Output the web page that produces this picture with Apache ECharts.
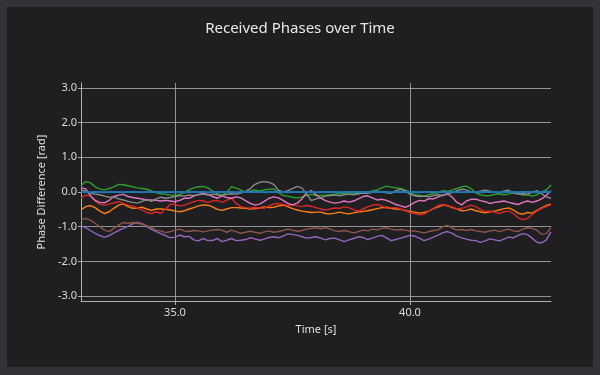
<!DOCTYPE html>
<html><head><meta charset="utf-8">
<script src="https://cdn.jsdelivr.net/npm/echarts@6/dist/echarts.min.js"></script>
<style>
html,body{margin:0;padding:0;background:#333236;}
#frame{position:relative;width:600px;height:375px;background:#333236;overflow:hidden;}
#chart{position:absolute;left:7px;top:7px;width:586px;height:360px;}
</style></head><body>
<div id="frame"><div id="chart"></div></div>
<script>
// sampling of the time axis
const t0 = 33.0;
const dt = 0.1;

const xTicks = [35, 40];
const yTicks = [-3, -2, -1, 0, 1, 2, 3];

const blue = [
 0.00,0.00,-0.01,0.00,0.00,-0.01,0.00,0.00,0.00,-0.01,
 0.00,0.00,0.00,-0.01,0.00,0.00,0.00,0.00,-0.01,0.00,
 0.00,0.00,-0.01,0.00,0.00,0.00,0.00,-0.01,0.00,0.00,
 0.00,0.00,0.00,-0.01,0.00,0.00,0.00,0.00,0.00,-0.01,
 0.00,0.00,0.00,0.00,-0.01,0.00,0.00,0.00,0.00,0.00,
 -0.01,0.00,0.00,0.00,0.00,-0.01,0.00,0.00,0.00,0.00,
 0.00,-0.01,0.00,0.00,0.00,0.00,-0.01,0.00,0.00,0.00,
 0.00,0.00,-0.01,0.00,0.00,0.00,-0.01,0.00,0.00,0.00,
 0.00,-0.01,0.00,0.00,0.00,-0.01,0.00,0.00,0.00,-0.01,
 0.00,0.00,0.00,-0.01,0.00,0.00,0.00,-0.01,0.00,0.00,
 0.00];
const orange = [
 -0.52,-0.42,-0.39,-0.45,-0.55,-0.62,-0.57,-0.47,-0.38,-0.34,
 -0.42,-0.47,-0.46,-0.44,-0.49,-0.53,-0.49,-0.49,-0.50,-0.52,
 -0.55,-0.57,-0.54,-0.49,-0.45,-0.40,-0.37,-0.38,-0.43,-0.50,
 -0.53,-0.49,-0.45,-0.45,-0.46,-0.47,-0.49,-0.48,-0.46,-0.43,
 -0.45,-0.44,-0.40,-0.38,-0.42,-0.48,-0.52,-0.55,-0.57,-0.59,
 -0.58,-0.58,-0.62,-0.63,-0.61,-0.58,-0.61,-0.63,-0.60,-0.57,
 -0.56,-0.54,-0.51,-0.48,-0.45,-0.44,-0.47,-0.49,-0.50,-0.53,
 -0.56,-0.58,-0.61,-0.59,-0.55,-0.48,-0.43,-0.38,-0.39,-0.45,
 -0.49,-0.54,-0.53,-0.49,-0.54,-0.57,-0.60,-0.57,-0.55,-0.52,
 -0.48,-0.46,-0.52,-0.61,-0.64,-0.59,-0.61,-0.53,-0.46,-0.39,
 -0.35];
const green = [
 0.18,0.30,0.27,0.15,0.09,0.06,0.10,0.15,0.22,0.21,
 0.18,0.15,0.12,0.10,0.08,0.03,-0.02,-0.05,-0.07,-0.09,
 -0.10,-0.07,-0.01,0.06,0.12,0.15,0.16,0.12,0.03,-0.05,
 -0.09,-0.01,0.15,0.11,0.06,-0.01,0.03,0.06,0.03,0.06,
 0.08,0.09,-0.02,-0.10,-0.12,-0.15,-0.17,-0.15,-0.10,-0.07,
 -0.10,-0.10,-0.09,-0.08,-0.06,-0.05,-0.04,-0.02,-0.03,-0.05,
 -0.02,0.00,0.03,0.06,0.12,0.17,0.14,0.12,0.10,0.05,
 0.00,-0.08,-0.10,-0.12,-0.08,-0.04,-0.02,0.04,0.02,0.06,
 0.10,0.15,0.17,0.10,-0.03,-0.08,-0.11,-0.10,-0.07,-0.05,
 -0.08,-0.06,-0.02,-0.04,-0.09,-0.08,-0.12,-0.08,0.00,0.06,
 0.20];
const red = [
 -0.18,-0.09,-0.11,-0.26,-0.35,-0.38,-0.35,-0.31,-0.28,-0.33,
 -0.38,-0.41,-0.45,-0.52,-0.59,-0.62,-0.57,-0.62,-0.49,-0.35,
 -0.36,-0.40,-0.38,-0.33,-0.28,-0.24,-0.26,-0.30,-0.26,-0.24,
 -0.30,-0.24,-0.18,-0.33,-0.42,-0.45,-0.47,-0.44,-0.46,-0.47,
 -0.40,-0.34,-0.33,-0.36,-0.39,-0.37,-0.40,-0.42,-0.39,-0.41,
 -0.45,-0.49,-0.52,-0.49,-0.46,-0.47,-0.43,-0.45,-0.51,-0.55,
 -0.49,-0.43,-0.38,-0.36,-0.40,-0.47,-0.45,-0.45,-0.49,-0.54,
 -0.59,-0.62,-0.66,-0.64,-0.55,-0.47,-0.39,-0.36,-0.40,-0.43,
 -0.49,-0.47,-0.43,-0.38,-0.42,-0.50,-0.56,-0.55,-0.58,-0.62,
 -0.57,-0.55,-0.62,-0.74,-0.80,-0.76,-0.65,-0.55,-0.47,-0.42,
 -0.37];
const purple = [
 -0.97,-1.03,-1.11,-1.19,-1.26,-1.30,-1.26,-1.18,-1.11,-1.05,
 -0.99,-0.92,-0.88,-0.91,-1.00,-1.08,-1.14,-1.20,-1.26,-1.32,
 -1.30,-1.24,-1.29,-1.28,-1.38,-1.41,-1.34,-1.40,-1.40,-1.34,
 -1.43,-1.39,-1.34,-1.40,-1.39,-1.37,-1.32,-1.35,-1.39,-1.36,
 -1.31,-1.29,-1.32,-1.27,-1.21,-1.22,-1.25,-1.29,-1.33,-1.31,
 -1.29,-1.33,-1.38,-1.34,-1.33,-1.38,-1.43,-1.38,-1.34,-1.29,
 -1.31,-1.37,-1.33,-1.28,-1.25,-1.32,-1.40,-1.37,-1.33,-1.29,
 -1.25,-1.27,-1.33,-1.40,-1.36,-1.30,-1.24,-1.17,-1.14,-1.19,
 -1.27,-1.32,-1.36,-1.39,-1.40,-1.45,-1.41,-1.35,-1.38,-1.41,
 -1.36,-1.30,-1.32,-1.25,-1.20,-1.23,-1.33,-1.45,-1.47,-1.38,
 -1.15];
const brown = [
 -0.81,-0.76,-0.81,-0.90,-1.00,-1.10,-1.14,-1.05,-0.95,-0.88,
 -0.90,-0.88,-0.90,-0.93,-0.97,-1.03,-1.10,-1.12,-1.17,-1.14,
 -1.10,-1.07,-1.12,-1.14,-1.11,-1.12,-1.15,-1.12,-1.10,-1.08,
 -1.10,-1.16,-1.10,-1.14,-1.19,-1.16,-1.13,-1.16,-1.19,-1.15,
 -1.12,-1.16,-1.14,-1.11,-1.07,-1.10,-1.13,-1.11,-1.07,-1.05,
 -1.03,-1.06,-1.03,-1.07,-1.12,-1.14,-1.11,-1.14,-1.18,-1.14,
 -1.10,-1.12,-1.07,-1.09,-1.05,-1.03,-1.07,-1.10,-1.08,-1.10,
 -1.13,-1.12,-1.15,-1.18,-1.14,-1.11,-1.09,-1.00,-0.96,-1.04,
 -1.10,-1.08,-1.11,-1.08,-1.12,-1.14,-1.16,-1.12,-1.10,-1.14,
 -1.10,-1.07,-1.12,-1.14,-1.07,-1.03,-1.05,-1.10,-1.22,-1.20,
 -1.02];
const pink = [
 0.12,0.09,-0.11,-0.24,-0.30,-0.31,-0.24,-0.13,-0.09,-0.07,
 -0.13,-0.16,-0.18,-0.20,-0.23,-0.23,-0.24,-0.26,-0.24,-0.26,
 -0.28,-0.24,-0.18,-0.18,-0.12,-0.07,-0.04,-0.07,-0.13,-0.18,
 -0.11,-0.16,-0.18,-0.14,-0.17,-0.25,-0.33,-0.37,-0.35,-0.27,
 -0.18,-0.14,-0.17,-0.24,-0.33,-0.37,-0.32,-0.20,-0.02,0.04,
 -0.08,-0.18,-0.25,-0.29,-0.32,-0.30,-0.26,-0.29,-0.26,-0.20,
 -0.13,-0.11,-0.17,-0.23,-0.21,-0.24,-0.30,-0.36,-0.40,-0.44,
 -0.38,-0.30,-0.24,-0.26,-0.19,-0.20,-0.14,-0.09,-0.05,-0.15,
 -0.30,-0.37,-0.26,-0.21,-0.21,-0.25,-0.28,-0.33,-0.30,-0.28,
 -0.26,-0.30,-0.33,-0.36,-0.30,-0.26,-0.30,-0.26,-0.20,-0.10,
 0.04];
const gray = [
 0.05,0.02,-0.04,-0.06,-0.08,-0.12,-0.15,-0.14,-0.20,-0.23,
 -0.27,-0.30,-0.32,-0.27,-0.22,-0.27,-0.20,-0.15,-0.18,-0.16,
 -0.13,-0.10,-0.12,-0.09,-0.10,-0.08,-0.06,-0.09,-0.06,-0.08,
 -0.10,-0.07,-0.05,-0.06,-0.03,0.02,0.10,0.22,0.28,0.30,
 0.28,0.22,0.05,0.00,0.04,0.10,0.16,0.12,-0.05,-0.25,
 -0.20,-0.16,-0.12,-0.10,-0.09,-0.11,-0.08,-0.06,-0.08,-0.05,
 -0.03,-0.04,-0.01,0.02,0.00,-0.02,-0.04,0.04,0.08,0.02,
 -0.06,-0.11,-0.13,-0.12,-0.14,-0.10,-0.08,-0.10,-0.06,-0.02,
 0.04,0.08,0.06,0.00,-0.01,0.02,0.05,0.02,-0.01,-0.02,
 0.03,0.05,-0.03,-0.06,-0.05,-0.06,-0.01,0.04,-0.05,-0.14,
 -0.18];

const seriesDefs = [
  {name: 'ch0', values: blue,   color: '#1f77b4', width: 2},
  {name: 'ch1', values: orange, color: '#ff7f0e', width: 1.4},
  {name: 'ch2', values: green,  color: '#2ca02c', width: 1.4},
  {name: 'ch3', values: red,    color: '#d62728', width: 1.4},
  {name: 'ch4', values: purple, color: '#9467bd', width: 1.4},
  {name: 'ch5', values: brown,  color: '#8c564b', width: 1.4},
  {name: 'ch6', values: pink,   color: '#e377c2', width: 1.4},
  {name: 'ch7', values: gray,   color: '#8a8a8a', width: 1.4}
];

function pairs(vals) {
  return vals.map((v, i) => [Math.round((t0 + i * dt) * 100) / 100, v]);
}

const FONT = 'Noto Sans';
const chart = echarts.init(document.getElementById('chart'), null, {renderer: 'canvas'});
chart.setOption({
  backgroundColor: '#1f1e21',
  animation: false,
  textStyle: {fontFamily: FONT},
  title: {
    text: 'Received Phases over Time',
    left: 'center', top: 9,
    textStyle: {color: '#e8e8e8', fontSize: 15, fontWeight: 'normal', fontFamily: FONT}
  },
  grid: {left: 74, right: 42, top: 76, bottom: 66, containLabel: false},
  xAxis: {
    type: 'value', min: 33, max: 43,
    name: 'Time [s]', nameLocation: 'middle', nameGap: 23,
    nameTextStyle: {color: '#e0e0e0', fontSize: 11, fontFamily: FONT},
    axisLine: {show: true, onZero: false, lineStyle: {color: '#b0b0b0', width: 1}},
    axisTick: {show: true, length: 4, customValues: xTicks, lineStyle: {color: '#b0b0b0'}},
    axisLabel: {show: true, customValues: xTicks, margin: 6, color: '#dcdcdc', fontSize: 11, fontFamily: FONT,
      formatter: v => v.toFixed(1)},
    splitLine: {show: true, lineStyle: {color: '#a8a8a8', width: 1, opacity: 0.85}}
  },
  yAxis: {
    type: 'value', min: -3.1416, max: 3.1416,
    name: 'Phase Difference [rad]', nameLocation: 'middle', nameGap: 28,
    nameTextStyle: {color: '#e0e0e0', fontSize: 11, fontFamily: FONT},
    axisLine: {show: true, onZero: false, lineStyle: {color: '#b0b0b0', width: 1}},
    axisTick: {show: true, length: 3, customValues: yTicks, lineStyle: {color: '#b0b0b0'}},
    axisLabel: {show: true, customValues: yTicks, margin: 4, color: '#dcdcdc', fontSize: 11, fontFamily: FONT,
      formatter: v => v.toFixed(1)},
    splitLine: {show: true, lineStyle: {color: '#a8a8a8', width: 1, opacity: 0.85}}
  },
  series: seriesDefs.map((s, k) => ({
    name: s.name, type: 'line', data: pairs(s.values),
    showSymbol: false, symbol: 'none', smooth: false,
    color: s.color,
    lineStyle: {color: s.color, width: s.width},
    z: k === 0 ? 10 : 2
  }))
});
</script>
</body></html>
